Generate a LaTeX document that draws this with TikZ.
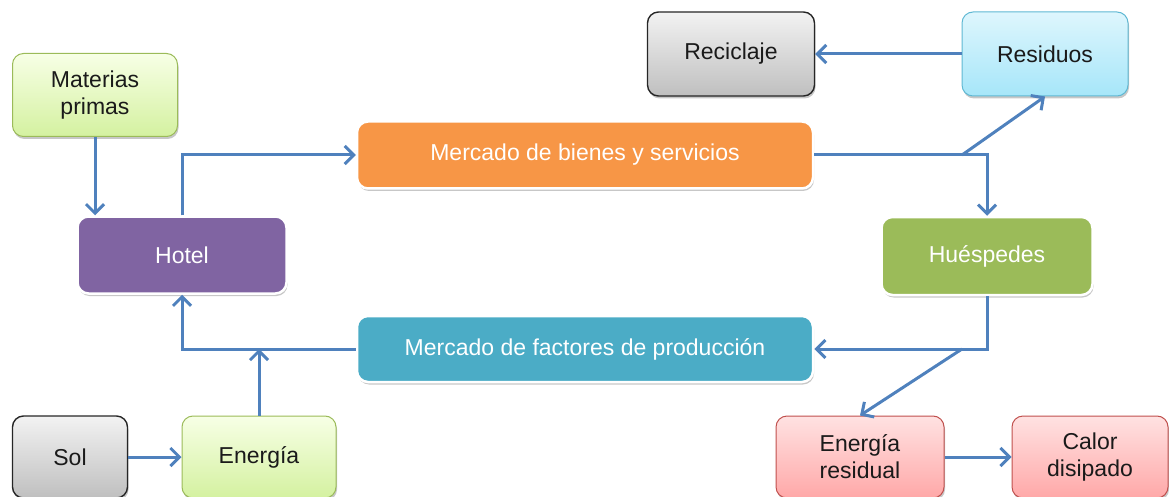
\documentclass[tikz,border=0pt]{standalone}
\usepackage{fontspec}
\setmainfont{Liberation Sans}
\usepackage{tikz}
\usetikzlibrary{arrows.meta, positioning, shadows}
\definecolor{flowblue}{HTML}{4F81BD}
\definecolor{hotelpurple}{HTML}{8064A2}
\definecolor{marketorange}{HTML}{F79646}
\definecolor{guestolive}{HTML}{9BBB59}
\definecolor{factorteal}{HTML}{4BACC6}
\definecolor{inktext}{HTML}{1A1A1A}
\newcommand{\boxfont}{\fontsize{23}{27}\selectfont}
\tikzset{
    basebox/.style={
        rectangle, rounded corners=11pt, align=center,
        font=\boxfont, inner sep=4pt,
        drop shadow={shadow xshift=1pt, shadow yshift=-2.5pt, opacity=0.22, fill=black}
    },
    solidbox/.style={
        basebox, fill=#1, draw=white, line width=2.5pt, text=white
    },
    solidbox/.default=hotelpurple,
    greenbox/.style={
        basebox, top color=green!8!lime!10!white, bottom color={rgb,255:red,212;green,241;blue,160},
        draw=guestolive, line width=1pt, text=inktext
    },
    graybox/.style={
        basebox, top color=black!5, bottom color=black!25,
        draw=black!85, line width=1.4pt, text=inktext
    },
    cyanbox/.style={
        basebox, top color={rgb,255:red,222;green,246;blue,253}, bottom color={rgb,255:red,166;green,230;blue,249},
        draw={rgb,255:red,95;green,184;blue,211}, line width=1pt, text=inktext
    },
    pinkbox/.style={
        basebox, top color={rgb,255:red,255;green,226;blue,226}, bottom color={rgb,255:red,255;green,168;blue,168},
        draw={rgb,255:red,192;green,80;blue,77}, line width=1pt, text=inktext
    },
    flow/.style={
        -{Straight Barb[length=9pt, width=18pt]}, line width=3pt, draw=flowblue
    },
}

\begin{document}
\begin{tikzpicture}[x=1pt, y=-1pt]

    \useasboundingbox (0,0) rectangle (1169,497);

    % Left column: inputs and hotel
    \node[greenbox, minimum width=165pt, minimum height=83pt] (matprim) at (95,95) {Materias\\primas};
    \node[solidbox=hotelpurple, minimum width=209pt, minimum height=77pt] (hotel) at (182,255) {Hotel};
    \node[graybox, minimum width=115pt, minimum height=82pt] (sol) at (70,457) {Sol};
    \node[greenbox, minimum width=154pt, minimum height=82pt] (energia) at (259,457) {Energía};

    % Middle: markets
    \node[solidbox=marketorange, minimum width=456pt, minimum height=67pt] (bienes) at (585,155) {Mercado de bienes y servicios};
    \node[solidbox=factorteal, minimum width=456pt, minimum height=66pt] (factores) at (585,349) {Mercado de factores de producción};

    % Right column: guests, waste and heat
    \node[graybox, minimum width=167pt, minimum height=84pt] (reciclaje) at (731,54) {Reciclaje};
    \node[cyanbox, minimum width=166pt, minimum height=84pt] (residuos) at (1045,54) {Residuos};
    \node[solidbox=guestolive, minimum width=211pt, minimum height=78pt] (huespedes) at (987,256) {Huéspedes};
    \node[pinkbox, minimum width=168pt, minimum height=82pt] (eresidual) at (860,457) {Energía\\residual};
    \node[pinkbox, minimum width=156pt, minimum height=82pt] (calor) at (1090,457) {Calor\\disipado};

    % Branch points
    \coordinate (splitA) at (962,155);
    \coordinate (splitB) at (962,349);

    % Upper loop
    \draw[flow] (matprim.south) -- (matprim.south |- hotel.north);
    \draw[flow] (hotel.north) |- (bienes.west);
    \draw[flow] (bienes.east) -| (huespedes.north);
    \draw[flow] (splitA) -- (residuos.south);
    \draw[flow] (residuos.west) -- (reciclaje.east);

    % Lower loop
    \draw[flow] (huespedes.south) |- (factores.east);
    \draw[flow] (splitB) -- (eresidual.north);
    \draw[flow] (factores.west) -| (hotel.south);
    \draw[flow] (energia.north) -- (energia.north |- factores.west);

    % Bottom row
    \draw[flow] (sol) -- (energia);
    \draw[flow] (eresidual) -- (calor);

\end{tikzpicture}
\end{document}
